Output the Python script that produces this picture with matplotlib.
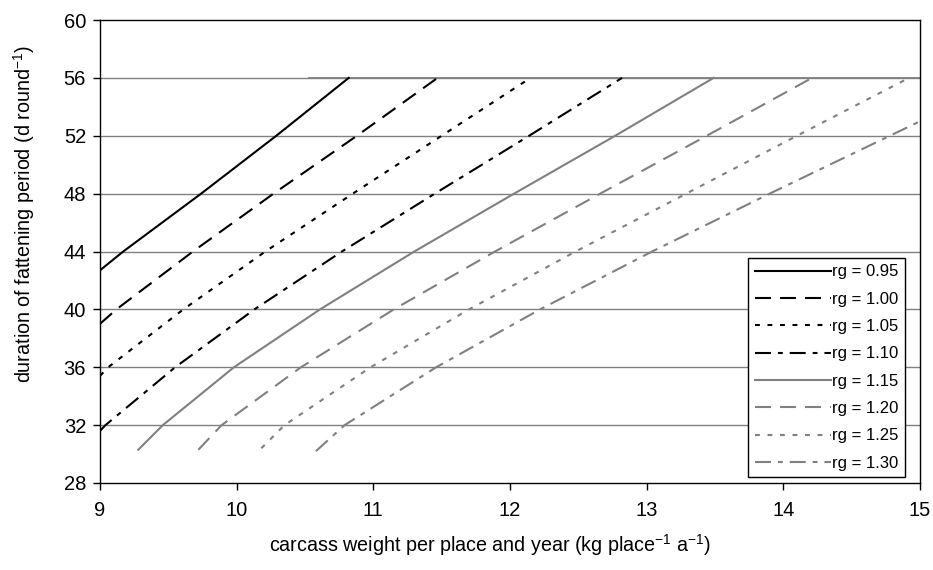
import numpy as np
import matplotlib
matplotlib.use("Agg")
import matplotlib.pyplot as plt

plt.rcParams['font.family'] = ['Liberation Sans', 'DejaVu Sans']
plt.rcParams['mathtext.fontset'] = 'custom'
plt.rcParams['mathtext.rm'] = 'Liberation Sans'
plt.rcParams['mathtext.it'] = 'Liberation Sans'
plt.rcParams['lines.scale_dashes'] = False

# curves: carcass weight (x) at given duration (y)
rg_labels = ["rg = 0.95", "rg = 1.00", "rg = 1.05", "rg = 1.10",
             "rg = 1.15", "rg = 1.20", "rg = 1.25", "rg = 1.30"]

x_095 = [9.00, 9.17, 9.74, 10.29, 10.82]
y_095 = [42.7, 44, 48, 52, 56]

x_100 = [9.00, 9.12, 9.68, 10.27, 10.88, 11.47]
y_100 = [39.0, 40, 44, 48, 52, 56]

x_105 = [9.00, 9.06, 9.61, 10.21, 10.85, 11.50, 12.15]
y_105 = [35.4, 36, 40, 44, 48, 52, 56]

x_110 = [9.00, 9.04, 9.55, 10.13, 10.77, 11.45, 12.14, 12.82]
y_110 = [31.6, 32, 36, 40, 44, 48, 52, 56]

x_115 = [9.28, 9.46, 9.98, 10.61, 11.30, 12.03, 12.77, 13.49]
y_115 = [30.3, 32, 36, 40, 44, 48, 52, 56]

x_120 = [9.72, 9.89, 10.47, 11.15, 11.89, 12.66, 13.44, 14.21]
y_120 = [30.3, 32, 36, 40, 44, 48, 52, 56]

x_125 = [10.18, 10.35, 10.98, 11.70, 12.48, 13.29, 14.10, 14.92]
y_125 = [30.4, 32, 36, 40, 44, 48, 52, 56]

x_130 = [10.58, 10.79, 11.46, 12.22, 13.04, 13.90, 14.78, 15.00]
y_130 = [30.2, 32, 36, 40, 44, 48, 52, 53.0]

# upper limit of the fattening period
cap_x = [10.53, 15.0]
cap_y = [56, 56]

xs = [x_095, x_100, x_105, x_110, x_115, x_120, x_125, x_130]
ys = [y_095, y_100, y_105, y_110, y_115, y_120, y_125, y_130]

dash = (0, (11.5, 6.5))
dot = (0, (3.5, 5.5))
dashdot = (0, (11.5, 5, 3.5, 5))
styles = ['-', dash, dot, dashdot, '-', dash, dot, dashdot]
colors = ['black'] * 4 + ['#808080'] * 4

fig = plt.figure(figsize=(9.33, 5.70), dpi=100)
ax = fig.add_axes([100/933, 87/570, 820/933, 463/570])

for yv in range(32, 60, 4):
    ax.axhline(yv, color='#808080', lw=1.0, zorder=1)
ax.plot(cap_x, cap_y, color='#808080', lw=1.3, zorder=2)

for x, y, ls, c, lab in zip(xs, ys, styles, colors, rg_labels):
    ax.plot(x, y, linestyle=ls, color=c, lw=1.5, label=lab, zorder=3)

ax.set_xlim(9, 15)
ax.set_ylim(28, 60)
ax.set_xticks(range(9, 16))
ax.set_yticks(range(28, 61, 4))
ax.tick_params(direction='out', length=5, width=1, labelsize=14.5, pad=5)
ax.tick_params(axis='x', pad=8)
for s in ax.spines.values():
    s.set_color('black')
    s.set_linewidth(1.0)

leg = ax.legend(loc='lower right', bbox_to_anchor=(0.982, 0.012),
                fontsize=12, handlelength=4.6, handletextpad=0.05,
                labelspacing=0.74, borderpad=0.4, fancybox=False,
                framealpha=1, edgecolor='black', borderaxespad=0)
leg.get_frame().set_linewidth(1.0)

fig.text(490/933, 1 - 545/570, "carcass weight per place and year (kg place$^{-1}$ a$^{-1}$)",
         ha='center', va='center', fontsize=14.2)
fig.text(24/933, 1 - 214/570, "duration of fattening period (d round$^{-1}$)",
         ha='center', va='center', rotation=90, fontsize=14.2)

fig.savefig("out.png", dpi=100)
